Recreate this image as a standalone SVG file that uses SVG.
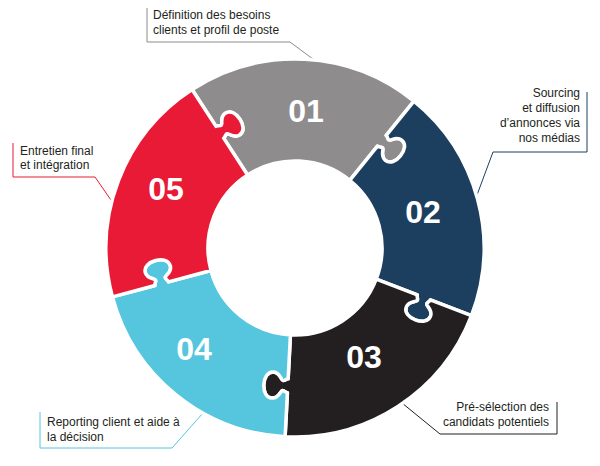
<svg xmlns="http://www.w3.org/2000/svg" width="600" height="466" viewBox="0 0 600 466">
<style>
.seg{stroke:#ffffff;stroke-width:3.5;stroke-linejoin:round}
.num{font-family:"Liberation Sans",Arial,sans-serif;font-weight:bold;font-size:32px;fill:#ffffff;text-anchor:middle}
.lbl{font-family:"Liberation Sans",Arial,sans-serif;font-size:12px;fill:#231f20}
.r{text-anchor:end}
.ln{fill:none;stroke-width:1}
</style>
<defs>
<path id="piece" d="M87,0 L131,0 C131,2 133,3 133,5 C133,7 125,8 125,15 C125,21 131,24 138,24 C145,24 151,21 151,15 C151,8 143,7 143,5 C143,3 145,2 145,0 L189,0 A189,189 0 0 1 58.405,179.750 L44.808,137.904 C42.906,138.522 41.337,136.929 39.435,137.547 C37.533,138.165 39.054,146.082 32.396,148.245 C26.690,150.099 21.983,145.320 19.820,138.662 C17.657,132.005 18.656,125.372 24.362,123.518 C31.020,121.355 34.443,128.654 36.345,128.036 C38.247,127.418 38.580,125.207 40.482,124.589 L26.885,82.742 A87,87 0 0 0 87,0 Z"/>
</defs>
<g id="connectors">
<polyline class="ln" stroke="#8e8c8d" points="147,8 147,42 290,42 317,62"/>
<polyline class="ln" stroke="#1d3f5f" points="587,92 587,152 493,152 477,195"/>
<polyline class="ln" stroke="#231f20" points="557,402 557,434 440,434 402,403"/>
<polyline class="ln" stroke="#55c6dd" points="40,412 40,448 172,448 203,413"/>
<polyline class="ln" stroke="#e91a35" points="13,143 13,177 95,177 113,203"/>
</g>
<g id="node-01">
<use href="#piece" class="seg" fill="#8e8c8d" transform="translate(295,248) rotate(-123)"/>
<text class="num" x="306" y="122">01</text>
<text class="lbl" x="153" y="19">Définition des besoins</text>
<text class="lbl" x="153" y="34">clients et profil de poste</text>
</g>
<g id="node-02">
<use href="#piece" class="seg" fill="#1d3f5f" transform="translate(295,248) rotate(-51)"/>
<text class="num" x="423" y="223">02</text>
<text class="lbl r" x="580" y="97">Sourcing</text>
<text class="lbl r" x="580" y="112">et diffusion</text>
<text class="lbl r" x="580" y="127">d’annonces via</text>
<text class="lbl r" x="580" y="142">nos médias</text>
</g>
<g id="node-03">
<use href="#piece" class="seg" fill="#231f20" transform="translate(295,248) rotate(21)"/>
<text class="num" x="364" y="368">03</text>
<text class="lbl r" x="549" y="411">Pré-sélection des</text>
<text class="lbl r" x="549" y="426">candidats potentiels</text>
</g>
<g id="node-04">
<use href="#piece" class="seg" fill="#55c6dd" transform="translate(295,248) rotate(93)"/>
<text class="num" x="194" y="360">04</text>
<text class="lbl" x="47" y="426">Reporting client et aide à</text>
<text class="lbl" x="47" y="441">la décision</text>
</g>
<g id="node-05">
<use href="#piece" class="seg" fill="#e91a35" transform="translate(295,248) rotate(165)"/>
<text class="num" x="166" y="200">05</text>
<text class="lbl" x="20" y="155">Entretien final</text>
<text class="lbl" x="20" y="169">et intégration</text>
</g>
</svg>
